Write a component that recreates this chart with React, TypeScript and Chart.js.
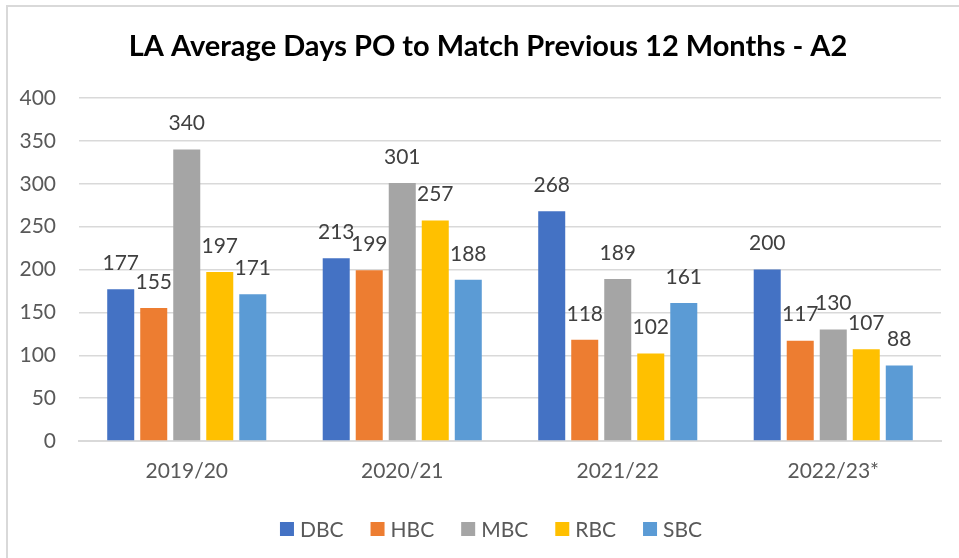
import React, { useEffect, useRef } from "react";
import { Chart, registerables } from "chart.js";

Chart.register(...registerables);

const titleText = "LA Average Days PO to Match Previous 12 Months - A2";
const categories = ["2019/20", "2020/21", "2021/22", "2022/23*"];
const seriesNames = ["DBC", "HBC", "MBC", "RBC", "SBC"];
const dbc = [177, 213, 268, 200];
const hbc = [155, 199, 118, 117];
const mbc = [340, 301, 189, 130];
const rbc = [197, 257, 102, 107];
const sbc = [171, 188, 161, 88];
const yTicks = [0, 50, 100, 150, 200, 250, 300, 350, 400];
const colors = ["#4472C4", "#ED7D31", "#A5A5A5", "#FFC000", "#5B9BD5"];

const FONT = "Lato, 'Noto Sans', sans-serif";

const valueLabels = {
  id: "valueLabels",
  afterDatasetsDraw(chart: any) {
    const ctx = chart.ctx;
    ctx.save();
    ctx.font = `21px ${FONT}`;
    ctx.fillStyle = "#404040";
    ctx.textAlign = "center";
    ctx.textBaseline = "middle";
    chart.data.datasets.forEach((ds: any, di: number) => {
      const meta = chart.getDatasetMeta(di);
      meta.data.forEach((el: any, i: number) => {
        ctx.fillText(String(ds.data[i]), el.x, el.y - 26);
      });
    });
    ctx.restore();
  },
};

const titleAndLegend = {
  id: "titleAndLegend",
  afterDraw(chart: any) {
    const ctx = chart.ctx;
    ctx.save();
    // title
    ctx.font = `bold 29px ${FONT}`;
    ctx.fillStyle = "#000000";
    ctx.textAlign = "center";
    ctx.textBaseline = "middle";
    ctx.fillText(titleText, 488, 47);
    // legend
    ctx.font = `21px ${FONT}`;
    const box = 14;
    const gapText = 6;
    const gapItem = 27;
    const items = chart.data.datasets.map((ds: any) => ({
      label: ds.label,
      color: ds.backgroundColor,
      w: ctx.measureText(ds.label).width,
    }));
    let total = 0;
    items.forEach((it: any, i: number) => {
      total += box + gapText + it.w + (i < items.length - 1 ? gapItem : 0);
    });
    let x = 491 - total / 2;
    const cy = 529;
    ctx.textAlign = "left";
    items.forEach((it: any) => {
      ctx.fillStyle = it.color;
      ctx.fillRect(x, cy - box / 2, box, box);
      ctx.fillStyle = "#595959";
      ctx.fillText(it.label, x + box + gapText, cy + 1);
      x += box + gapText + it.w + gapItem;
    });
    ctx.restore();
  },
};

export default function App() {
  const ref = useRef<HTMLCanvasElement | null>(null);
  useEffect(() => {
    if (!ref.current) return;
    const all = [dbc, hbc, mbc, rbc, sbc];
    const chart = new Chart(ref.current, {
      type: "bar",
      data: {
        labels: categories,
        datasets: seriesNames.map((n, i) => ({
          label: n,
          data: all[i],
          backgroundColor: colors[i],
          borderWidth: 0,
          categoryPercentage: 0.766,
          barPercentage: 0.818,
        })),
      },
      options: {
        animation: false,
        responsive: false,
        devicePixelRatio: 1,
        layout: { padding: { left: 0, right: 18, top: 98, bottom: 65 } },
        plugins: {
          title: { display: false },
          legend: { display: false },
          tooltip: { enabled: false },
        },
        scales: {
          x: {
            grid: { display: false, drawTicks: false },
            border: { display: true, color: "#D9D9D9", width: 2 },
            ticks: { color: "#595959", font: { family: FONT, size: 21 }, padding: 18 },
            afterFit: (axis: any) => {
              axis.height = 52;
            },
          },
          y: {
            min: 0,
            max: 400,
            afterBuildTicks: (axis: any) => {
              axis.ticks = yTicks.map((v) => ({ value: v }));
            },
            afterFit: (axis: any) => {
              axis.width = 79;
            },
            grid: { color: "#D9D9D9", lineWidth: 1.5, drawTicks: false },
            border: { display: false },
            ticks: { color: "#595959", font: { family: FONT, size: 21 }, padding: 23 },
          },
        },
      },
      plugins: [valueLabels, titleAndLegend],
    });
    return () => chart.destroy();
  }, []);
  return (
    <div style={{ position: "absolute", left: 0, top: 0, width: 959, height: 558, background: "#fff", overflow: "hidden" }}>
      <canvas ref={ref} width={959} height={558} style={{ position: "absolute", left: 0, top: 0 }} />
      <div
        style={{
          position: "absolute",
          left: 6,
          top: 5,
          width: 980,
          height: 600,
          border: "2px solid #D9D9D9",
          pointerEvents: "none",
        }}
      />
    </div>
  );
}
